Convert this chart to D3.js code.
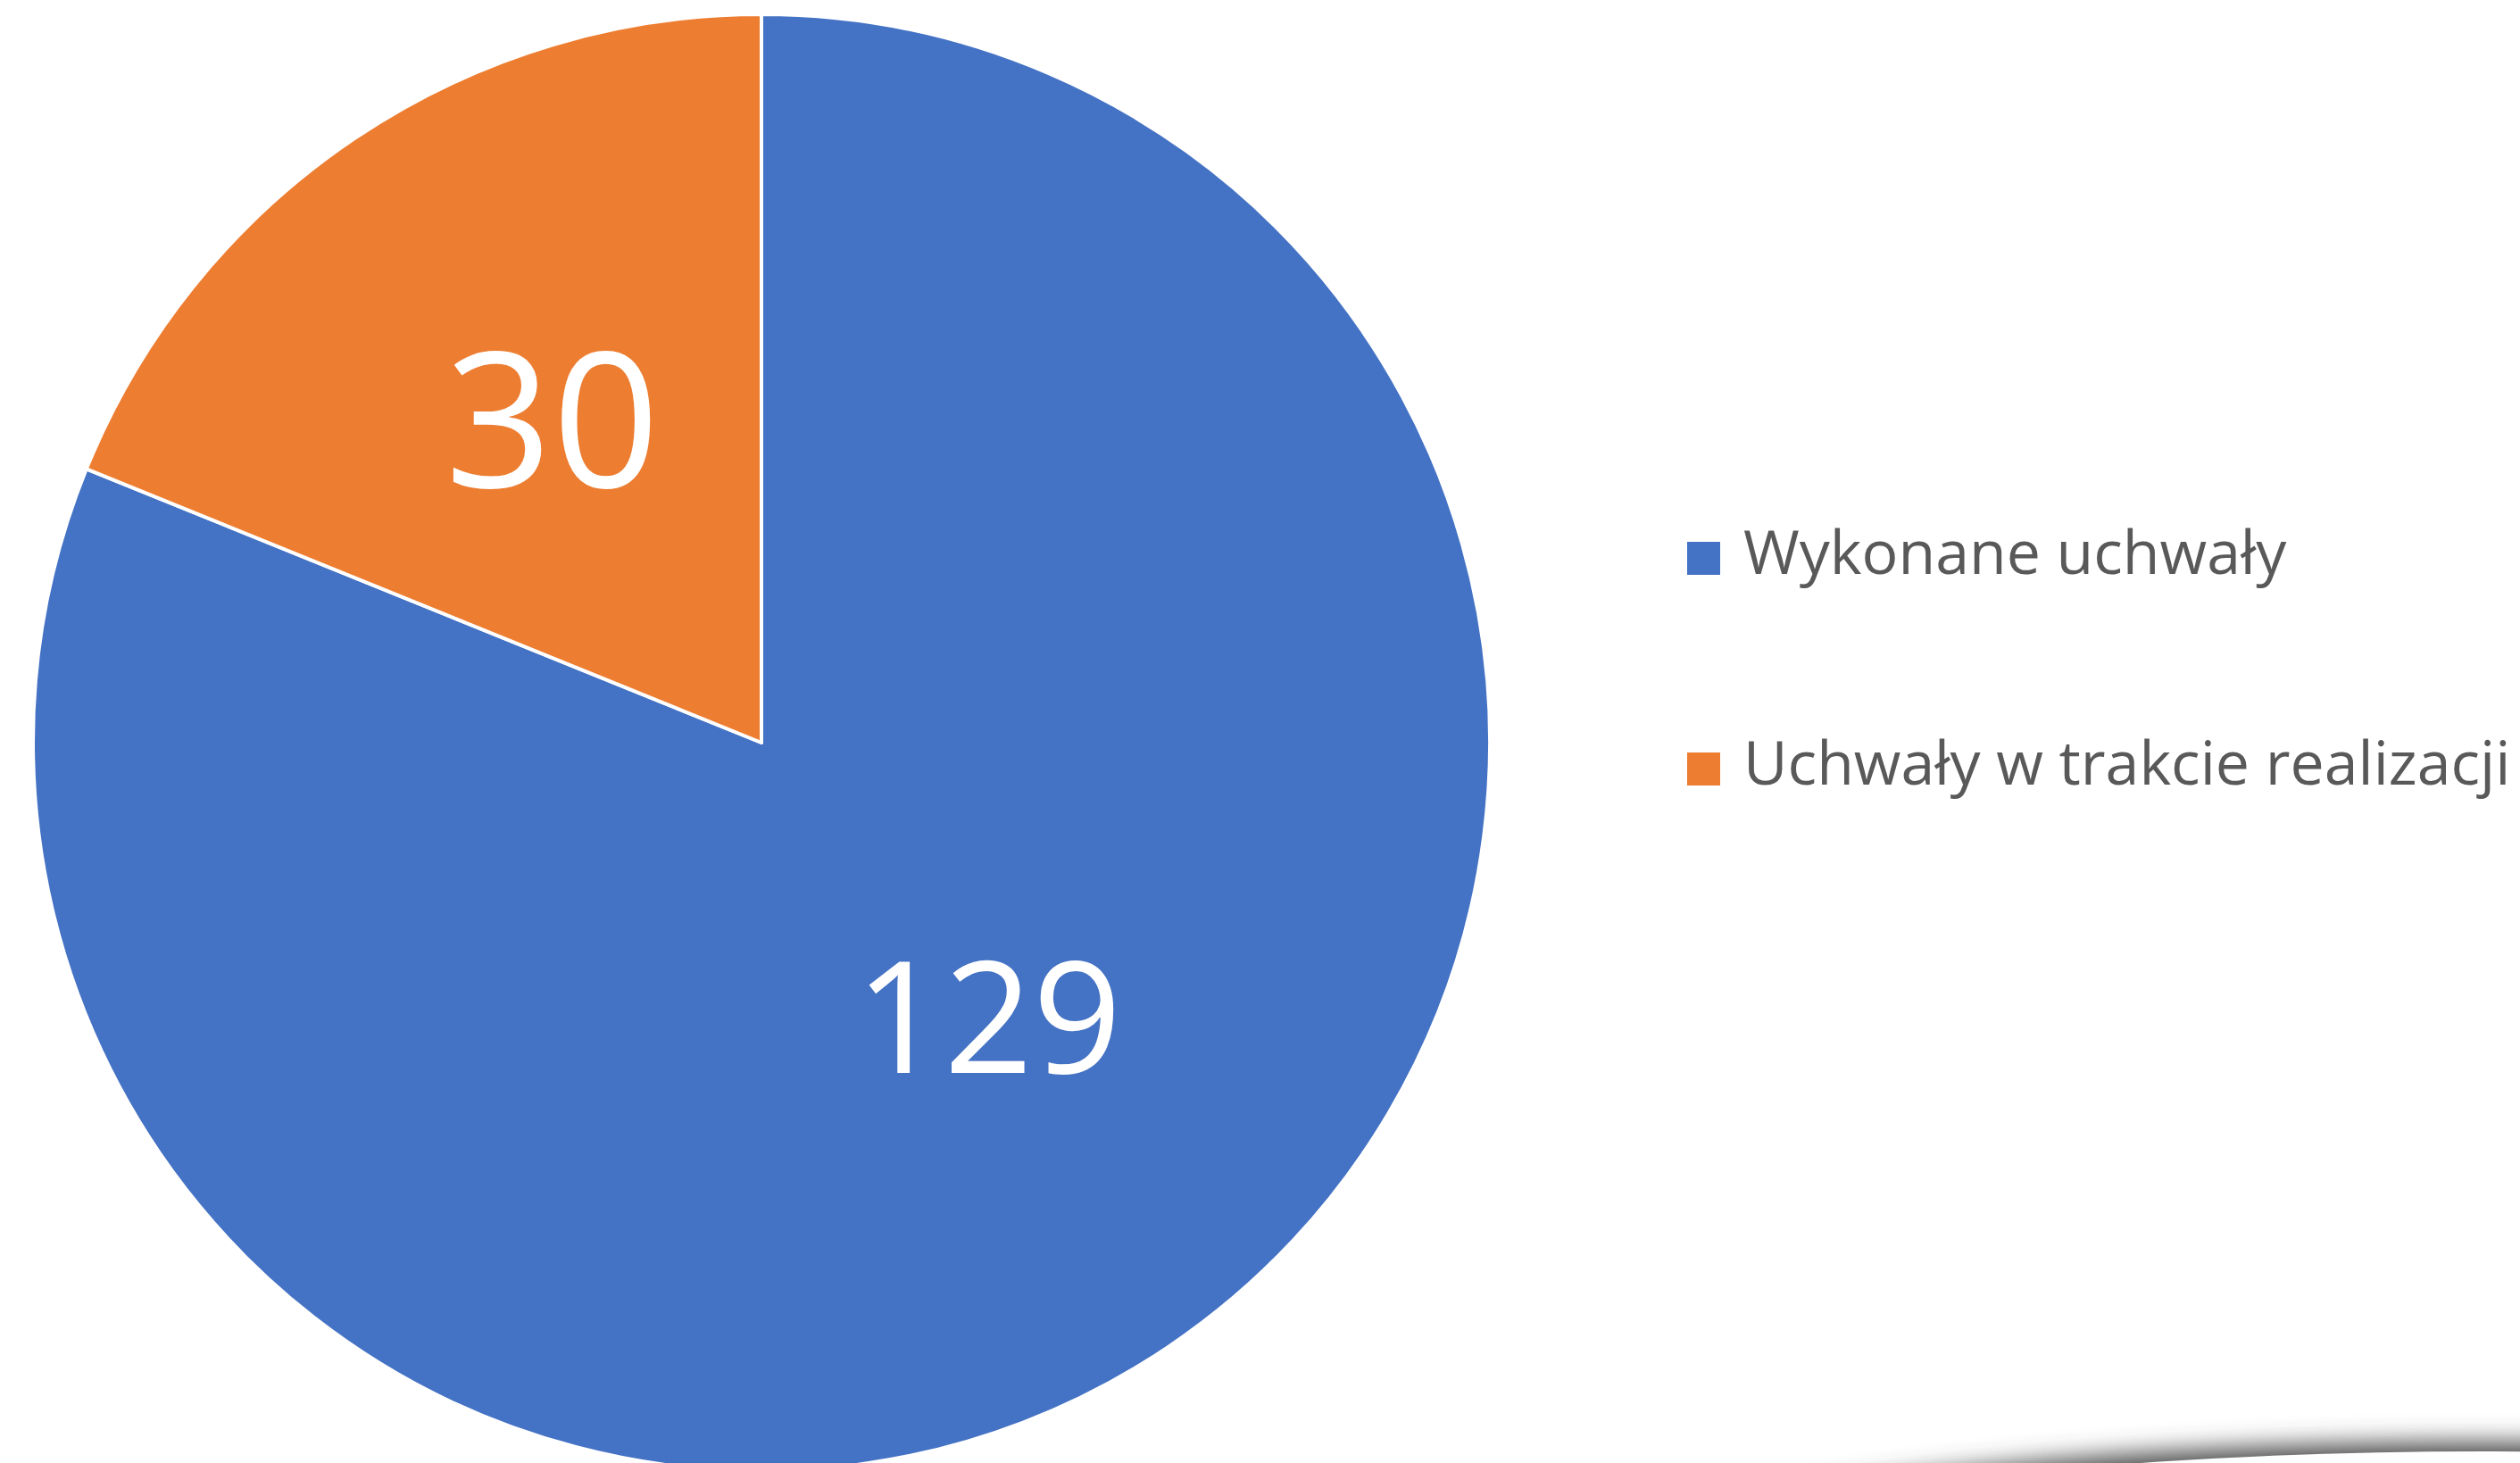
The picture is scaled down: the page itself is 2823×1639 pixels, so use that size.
<!DOCTYPE html>
<html lang="pl">
<head>
    <meta charset="UTF-8">
    <title>Uchwały</title>
    <script src="https://d3js.org/d3.v7.min.js"></script>
    <style>
        body { margin: 0; background: #fff; }
        svg { display: block; font-family: "Open Sans", sans-serif; }
    </style>
</head>
<body>
    <div id="chart"></div>
    <script>
        // dane
        const categories = ["Wykonane uchwały", "Uchwały w trakcie realizacji"];
        const values = [129, 30];
        const colors = ["#4472C4", "#ED7D31"];

        const width = 2823;
        const height = 1639;

        const cx = 853, cy = 832, radius = 816;

        const svg = d3.select("#chart").append("svg")
            .attr("width", width)
            .attr("height", height);

        svg.append("rect").attr("width", width).attr("height", height).attr("fill", "#fff");

        const color = d3.scaleOrdinal().domain(categories).range(colors);

        const pie = d3.pie().sort(null).value(d => d.value);
        const data = categories.map((c, i) => ({ name: c, value: values[i] }));
        const arcs = pie(data);

        const arc = d3.arc().innerRadius(0).outerRadius(radius);
        const labelArc = d3.arc().innerRadius(radius * 0.505).outerRadius(radius * 0.505);
        const labelTurn = -0.042; // excel stawia etykiety lekko obrócone

        const g = svg.append("g").attr("transform", `translate(${cx},${cy})`);

        g.selectAll("path")
            .data(arcs)
            .join("path")
            .attr("d", arc)
            .attr("fill", d => color(d.data.name))
            .attr("stroke", "#fff")
            .attr("stroke-width", 4)
            .attr("stroke-linejoin", "round");

        // etykiety danych - mniejszy wycinek ma większą czcionkę
        const labelSize = d3.scaleLinear().domain([30, 129]).range([210, 174]);

        g.selectAll("text.val")
            .data(arcs)
            .join("text")
            .attr("class", "val")
            .attr("transform", d => {
                const p = labelArc.centroid({ startAngle: d.startAngle + labelTurn, endAngle: d.endAngle + labelTurn });
                return `translate(${p})`;
            })
            .attr("text-anchor", "middle")
            .attr("dx", 10)
            .attr("dy", "0.22em")
            .attr("fill", "#fff")
            .attr("font-size", d => labelSize(d.value))
            .text(d => d.value);

        // legenda
        const legend = svg.append("g").attr("transform", "translate(1890,607)");
        const item = legend.selectAll("g")
            .data(categories)
            .join("g")
            .attr("transform", (d, i) => `translate(0,${i * 236})`);

        item.append("rect")
            .attr("width", 37)
            .attr("height", 37)
            .attr("fill", d => color(d));

        item.append("text")
            .attr("x", 63)
            .attr("y", 36)
            .attr("fill", "#595959")
            .attr("font-size", 68)
            .text(d => d);

        // cień w prawym dolnym rogu
        const defs = svg.append("defs");
        defs.append("filter").attr("id", "blur")
            .attr("x", "-20%").attr("y", "-50%").attr("width", "140%").attr("height", "200%")
            .append("feGaussianBlur").attr("stdDeviation", 14);

        svg.append("ellipse")
            .attr("cx", 2780).attr("cy", 1866)
            .attr("rx", 1220).attr("ry", 250)
            .attr("fill", "#4a4a4a")
            .attr("filter", "url(#blur)");

        svg.append("ellipse")
            .attr("cx", 2780).attr("cy", 1876)
            .attr("rx", 1200).attr("ry", 250)
            .attr("fill", "#fff");
    </script>
</body>
</html>
